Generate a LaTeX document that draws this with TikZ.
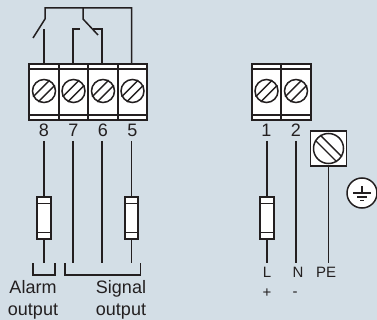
\documentclass[tikz,border=0pt]{standalone}
\usepackage{fontspec}
\setmainfont{Liberation Sans}
\definecolor{panel}{HTML}{D3DEE6}
\definecolor{ink}{HTML}{231F20}
\tikzset{
  wire/.style={draw=ink, line width=1.5pt},
  terminal/.style={draw=ink, fill=white, line width=1.7pt, minimum width=29.5pt, minimum height=56pt, inner sep=0pt},
  fuse/.style={draw=ink, fill=white, line width=2pt, minimum width=13.5pt, minimum height=41pt, inner sep=0pt},
  screw/.style={circle, draw=ink, fill=white, line width=1.5pt, minimum size=23pt, inner sep=0pt},
  bigscrew/.style={screw, minimum size=30pt},
  pebox/.style={draw=ink, fill=white, line width=1.8pt, minimum width=36pt, minimum height=35pt, inner sep=0pt},
  num/.style={inner sep=0pt, text=ink, font=\fontsize{18}{20}\selectfont},
  lbl/.style={inner sep=0pt, text=ink, font=\fontsize{18}{22}\selectfont, align=center},
  small/.style={inner sep=0pt, text=ink, font=\fontsize{15}{18}\selectfont}
}
\begin{document}
\begin{tikzpicture}[x=1pt, y=-1pt]
  \fill[panel] (0,0) rectangle (377,320);
  \useasboundingbox (0,0) rectangle (377,320);

  % terminals
  \foreach \name/\x in {8/44, 7/73.5, 6/103, 5/132.5, 1/266.5, 2/296}{
    \node [terminal](t\name) at (\x,92) {};
    \draw [ink, line width=1.5pt] (t\name.north west) ++(0,6) -- ++(29.5,0);
    \draw [ink, line width=1.5pt] (t\name.south west) ++(0,-6) -- ++(29.5,0);
    \node [screw](s\name) at (\x,91) {};
    \draw [ink, line width=1.4pt] (s\name.62) -- (s\name.208);
    \draw [ink, line width=1.4pt] (s\name.28) -- (s\name.242);
    \node [num](n\name) at (\x,130.5) {\name};
  }

  % earth terminal
  \node [pebox](pe) at (328.5,148.5) {};
  \node [bigscrew](sp) at (328.5,148.5) {};
  \draw [ink, line width=1.4pt] (sp.148) -- (sp.302);
  \draw [ink, line width=1.4pt] (sp.122) -- (sp.328);

  % fuses
  \foreach \name/\x in {a/44, b/131.5, c/267}{
    \node [fuse](f\name) at (\x,218) {};
    \draw [ink, line width=1.5pt] (f\name.north west) ++(0,7) -- ++(13.5,0);
    \draw [ink, line width=1.5pt] (f\name.south west) ++(0,-7) -- ++(13.5,0);
  }

  % wire ends
  \coordinate (w8) at (44,141);
  \coordinate (w7) at (73,141);
  \coordinate (w6) at (102,141);
  \coordinate (w5) at (131.5,141);
  \coordinate (w1) at (267,141);
  \coordinate (w2) at (296,141);
  \coordinate (e8) at (44,263);
  \coordinate (e7) at (73,263);
  \coordinate (e6) at (102,263);
  \coordinate (e5) at (131.5,263);
  \coordinate (e1) at (267,263);
  \coordinate (e2) at (296,263);
  \coordinate (ep) at (328.5,263);

  \draw [wire] (w8) -- (fa.north);
  \draw [wire] (fa.south) -- (e8);
  \draw [wire] (w7) -- (e7);
  \draw [wire] (w6) -- (e6);
  \draw [wire] (w5) -- (fb.north);
  \draw [wire] (fb.south) -- (e5);
  \draw [wire] (w1) -- (fc.north);
  \draw [wire] (fc.south) -- (e1);
  \draw [wire] (w2) -- (e2);
  \draw [wire] (pe.south) -- (ep);

  % contacts
  \draw [wire] (44,64) -- (44,29);
  \draw [wire] (33,38) -- (45,19) -- (45,8) -- (131.5,8) -- (131.5,64);
  \draw [wire] (83,8) -- (83,19) -- (98,35);
  \draw [wire] (73,64) -- (73,29) -- (79.5,29);
  \draw [wire] (102,64) -- (102,29) -- (93,29);

  % output brackets
  \draw [ink, line width=1.3pt] (33,263) -- (33,275) -- (55,275) -- (55,263);
  \draw [ink, line width=1.3pt] (65,263) -- (65,275) -- (140.5,275) -- (140.5,263);

  % earth symbol
  \node [circle, draw=ink, fill=white, line width=1.5pt, minimum size=30pt, inner sep=0pt](gnd) at (362,193) {};
  \draw [ink, line width=1.3pt] (362,186.5) -- (362,193);
  \draw [ink, line width=1.3pt] (353,193) -- (371,193);
  \draw [ink, line width=1.3pt] (357,197) -- (367,197);
  \draw [ink, line width=1.3pt] (360,200.7) -- (364,200.7);

  % labels
  \node [lbl](alarm) at (33,299.5) {Alarm\\output};
  \node [lbl](signal) at (121,299.5) {Signal\\output};
  \node [small](L) at (267,272.5) {L};
  \node [small](N) at (298,272.5) {N};
  \node [small](PE) at (326,272.5) {PE};
  \node [small](plus) at (267,293) {+};
  \node [small](minus) at (295,294) {-};
\end{tikzpicture}
\end{document}
